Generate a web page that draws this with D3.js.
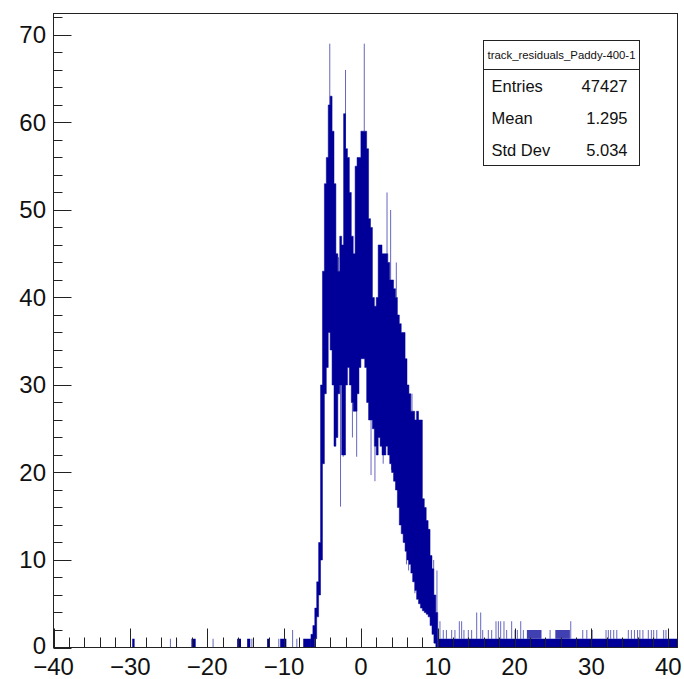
<!DOCTYPE html>
<html><head><meta charset="utf-8">
<script src="https://cdn.jsdelivr.net/npm/d3@7"></script>
<style>
html,body{margin:0;padding:0;background:#fff;}
svg{display:block;font-family:"Liberation Sans",Arial,Helvetica,sans-serif;}
</style></head>
<body>
<svg id="chart" width="684" height="679"></svg>
<script>
// ---- data ----
const histTitle = "track_residuals_Paddy-400-1";
const statLabels = ["Entries", "Mean", "Std Dev"];
const statValues = ["47427", "1.295", "5.034"];
const xTicks = [-40, -30, -20, -10, 0, 10, 20, 30, 40];
const yTicks = [0, 10, 20, 30, 40, 50, 60, 70];

// central body: columns of width 0.25 starting at x = -6.5; upper / lower envelope of the step line
const colStart = -6.5;
const colWidth = 0.25;
const colHi = [1.5, 2.5, 4.5, 7.5, 12, 30, 43, 53, 56, 62, 63, 59, 53, 45, 43, 47, 46, 61, 57, 56,
               52, 47, 45, 55, 56, 56, 59, 59, 59, 57, 49, 48, 40, 39, 40, 46, 46, 45, 45, 45,
               44, 42, 42, 41, 40, 38, 37, 36, 36, 33, 30, 29, 27, 27, 26, 27, 26, 26, 17, 16,
               14.5, 13.5, 10.5, 9, 6, 4];
const colLo = [0, 0, 1, 3.5, 6, 10, 21, 29, 32, 36, 34, 30, 23, 24, 29, 30, 22, 22, 30, 32,
               30, 28, 27, 27, 29, 32, 33, 33, 32, 28, 26, 26, 25, 23, 22, 24, 23, 22, 22, 23,
               22, 21, 20, 19, 18, 16, 14, 13, 12, 11, 10, 9.5, 8.5, 7.5, 6.5, 5.5, 5, 4.5, 4.2, 4,
               3.8, 3.5, 2.5, 1.5, 0.5, 0];

// thin single-bin spikes above the body
const upSpikeX = [-4.05, -2.0, 0.44, -2.91, 3.40, 3.87, 4.61, -0.55, 6.65, 9.47, 9.9];
const upSpikeV = [69, 66, 69, 44.6, 52, 50, 44, 55, 29, 10, 8.8];
// thin single-bin dips below the body
const downSpikeX = [-2.65, -3.4, -2.3, -1.1, -0.55, 1.32, 1.83, 2.9, 3.98, 5.93, 6.21, 6.36, 6.8, 7.03];
const downSpikeV = [16.1, 23, 21.8, 24, 21.8, 19.7, 19, 21, 20.3, 9.5, 8.8, 9.5, 8.4, 6.2];

// left tail: occupied ranges
const leftTailFrom = [-29.75, -24.85, -24.05, -22.05, -19.3, -16.1, -14.8, -14.25, -12.2, -10.75, -10.5, -8.95, -8.4, -7.5];
const leftTailTo   = [-29.45, -24.75, -23.95, -21.5, -19.2, -15.6, -14.4, -14.15, -11.9, -10.65, -9.7, -8.85, -8.3, -6.5];
const leftTailVal  = [1, 1, 1, 1, 1, 1, 1, 1, 1, 1, 1, 2, 1, 1];

// right tail: continuous level plus spikes
const rightTailFrom = 10.0, rightTailTo = 41.2, rightTailLevel = 1;
const rightSpikeX = [10.29, 10.72, 11.13, 11.81, 12.24, 12.81, 13.11, 13.41, 13.98, 14.41, 15.07, 15.59, 15.85, 16.58,
                     17.02, 17.58, 17.89, 18.19, 18.62, 18.97, 19.62, 20.06, 20.36, 20.80, 21.14, 24.62, 27.31, 28.87,
                     29.4, 30.1, 31.9, 32.2, 32.5, 32.9, 33.3, 34.8, 35.2, 35.6, 36.0, 36.3, 36.7, 37.4, 37.8, 38.1,
                     38.5, 39.4, 39.7];
const rightSpikeV = [3, 2, 2, 2, 2, 3, 3, 2, 2, 2, 4, 4, 2, 2,
                     2, 3, 3, 3, 3, 2, 3, 2, 2, 3, 2, 2, 3, 2,
                     2, 2, 2, 2, 2, 2, 2, 2, 2, 2, 2, 2, 2, 2, 2, 2,
                     2, 2, 2];
const rightDarkFrom = [21.6, 25.3];
const rightDarkTo   = [23.5, 27.2];
const rightDarkVal  = [2, 2];

// ---- drawing ----
const frame = {left: 53.5, right: 677.5, top: 13.5, bottom: 647.5};
const xMin = -40, xMax = 41.2, yMax = 72.45;
const blue = "#000099";

const svg = d3.select("#chart");
const x = d3.scaleLinear().domain([xMin, xMax]).range([frame.left, frame.right]);
const y = d3.scaleLinear().domain([0, yMax]).range([frame.bottom, frame.top]);

const g = svg.append("g");
svg.append("clipPath").attr("id", "clip").append("rect")
  .attr("x", frame.left).attr("y", frame.top)
  .attr("width", frame.right - frame.left).attr("height", frame.bottom - frame.top);
const hg = g.append("g").attr("clip-path", "url(#clip)");

// tails
hg.selectAll("rect.lt").data(leftTailFrom.map((f, i) => ({f, t: leftTailTo[i], v: leftTailVal[i]})))
  .join("rect").attr("class", "lt")
  .attr("x", d => x(d.f)).attr("width", d => Math.max(1, x(d.t) - x(d.f)))
  .attr("y", d => y(d.v)).attr("height", d => y(0) - y(d.v))
  .attr("fill", blue).attr("fill-opacity", d => (d.t - d.f) > 0.15 ? 1 : 0.6);

hg.append("rect").attr("x", x(rightTailFrom)).attr("width", x(rightTailTo) - x(rightTailFrom))
  .attr("y", y(rightTailLevel)).attr("height", y(0) - y(rightTailLevel)).attr("fill", blue);

hg.selectAll("rect.rd").data(rightDarkFrom.map((f, i) => ({f, t: rightDarkTo[i], v: rightDarkVal[i]})))
  .join("rect").attr("class", "rd")
  .attr("x", d => x(d.f)).attr("width", d => x(d.t) - x(d.f))
  .attr("y", d => y(d.v)).attr("height", d => y(rightTailLevel) - y(d.v))
  .attr("fill", blue).attr("fill-opacity", 0.75);

hg.selectAll("line.rs").data(rightSpikeX.map((s, i) => ({s, v: rightSpikeV[i]})))
  .join("line").attr("class", "rs")
  .attr("x1", d => x(d.s)).attr("x2", d => x(d.s))
  .attr("y1", y(rightTailLevel)).attr("y2", d => y(d.v))
  .attr("stroke", blue).attr("stroke-width", 1).attr("stroke-opacity", 0.6);

// body as one stepped polygon: upper edge forward, lower edge backward
const cols = colHi.map((h, i) => ({x0: colStart + i * colWidth, x1: colStart + (i + 1) * colWidth, hi: h, lo: colLo[i]}));
const poly = [];
cols.forEach(c => { poly.push([x(c.x0), y(c.hi)]); poly.push([x(c.x1), y(c.hi)]); });
cols.slice().reverse().forEach(c => { poly.push([x(c.x1), y(c.lo)]); poly.push([x(c.x0), y(c.lo)]); });
hg.append("path").attr("d", d3.line()(poly) + "Z").attr("fill", blue)
  .attr("stroke", blue).attr("stroke-width", 0.5).attr("stroke-linejoin", "miter");

function colAt(v) {
  const i = Math.max(0, Math.min(cols.length - 1, Math.floor((v - colStart) / colWidth)));
  return cols[i];
}
hg.selectAll("line.us").data(upSpikeX.map((s, i) => ({s, v: upSpikeV[i]})))
  .join("line").attr("class", "us")
  .attr("x1", d => x(d.s)).attr("x2", d => x(d.s))
  .attr("y1", d => y(colAt(d.s).hi)).attr("y2", d => y(d.v))
  .attr("stroke", blue).attr("stroke-width", 1).attr("stroke-opacity", 0.6);
hg.selectAll("line.ds").data(downSpikeX.map((s, i) => ({s, v: downSpikeV[i]})))
  .join("line").attr("class", "ds")
  .attr("x1", d => x(d.s)).attr("x2", d => x(d.s))
  .attr("y1", d => y(colAt(d.s).lo)).attr("y2", d => y(d.v))
  .attr("stroke", blue).attr("stroke-width", 1).attr("stroke-opacity", 0.6);

// frame
g.append("rect").attr("x", frame.left).attr("y", frame.top)
  .attr("width", frame.right - frame.left).attr("height", frame.bottom - frame.top)
  .attr("fill", "none").attr("stroke", "#222").attr("stroke-width", 1);

// x axis ticks (inward, upward)
const xMinor = d3.range(-40, 41, 2).filter(v => v % 10 !== 0);
const ax = g.append("g").attr("stroke", "#222").attr("stroke-width", 1);
ax.selectAll("line.xM").data(xTicks).join("line").attr("class", "xM")
  .attr("x1", d => Math.round(x(d)) + 0.5).attr("x2", d => Math.round(x(d)) + 0.5)
  .attr("y1", frame.bottom).attr("y2", frame.bottom - 19);
ax.selectAll("line.xm").data(xMinor).join("line").attr("class", "xm")
  .attr("x1", d => Math.round(x(d)) + 0.5).attr("x2", d => Math.round(x(d)) + 0.5)
  .attr("y1", frame.bottom).attr("y2", frame.bottom - 10);
// y axis ticks (inward, rightward)
const yMinor = d3.range(0, 73, 2).filter(v => v % 10 !== 0);
ax.selectAll("line.yM").data(yTicks).join("line").attr("class", "yM")
  .attr("y1", d => Math.round(y(d)) + 0.5).attr("y2", d => Math.round(y(d)) + 0.5)
  .attr("x1", frame.left).attr("x2", frame.left + 18);
ax.selectAll("line.ym").data(yMinor).join("line").attr("class", "ym")
  .attr("y1", d => Math.round(y(d)) + 0.5).attr("y2", d => Math.round(y(d)) + 0.5)
  .attr("x1", frame.left).attr("x2", frame.left + 9);

// tick labels
const fmt = v => (v < 0 ? "\u2212" + Math.abs(v) : String(v));
g.selectAll("text.xl").data(xTicks).join("text").attr("class", "xl")
  .attr("x", d => x(d)).attr("y", 675).attr("text-anchor", "middle")
  .attr("font-size", 24).attr("fill", "#111").text(fmt);
g.selectAll("text.yl").data(yTicks).join("text").attr("class", "yl")
  .attr("x", 46).attr("y", d => y(d) + (d === 0 ? 6.5 : 8.5)).attr("text-anchor", "end")
  .attr("font-size", 24).attr("fill", "#111").text(fmt);

// stats box
const box = {x: 483.5, y: 40.5, w: 156, h: 125, sep: 69.5};
const sb = g.append("g");
sb.append("rect").attr("x", box.x).attr("y", box.y).attr("width", box.w).attr("height", box.h)
  .attr("fill", "#fff").attr("stroke", "#222").attr("stroke-width", 1);
sb.append("line").attr("x1", box.x).attr("x2", box.x + box.w).attr("y1", box.sep).attr("y2", box.sep)
  .attr("stroke", "#222").attr("stroke-width", 1);
sb.append("text").attr("x", box.x + box.w / 2).attr("y", 59).attr("text-anchor", "middle")
  .attr("font-size", 11).attr("textLength", 148).attr("lengthAdjust", "spacingAndGlyphs")
  .attr("fill", "#111").text(histTitle);
const rowY = [92, 124, 156];
sb.selectAll("text.sl").data(statLabels).join("text").attr("class", "sl")
  .attr("x", box.x + 8).attr("y", (d, i) => rowY[i]).attr("font-size", 16.5).attr("fill", "#111").text(d => d);
sb.selectAll("text.sv").data(statValues).join("text").attr("class", "sv")
  .attr("x", box.x + box.w - 12).attr("y", (d, i) => rowY[i]).attr("text-anchor", "end")
  .attr("font-size", 16.5).attr("fill", "#111").text(d => d);
</script>
</body></html>
